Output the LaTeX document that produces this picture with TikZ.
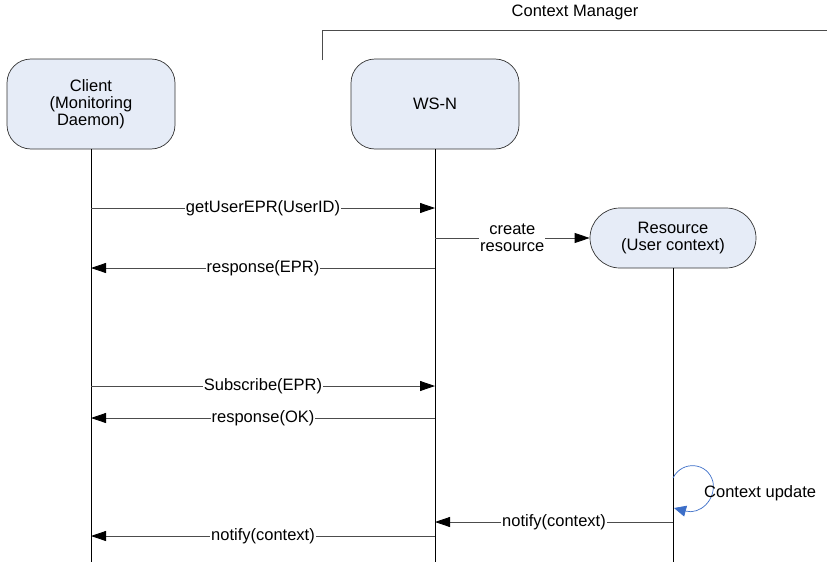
\documentclass[tikz,border=0pt]{standalone}
\usepackage{fontspec}
\setmainfont{Liberation Sans}
\usetikzlibrary{arrows.meta,shapes.misc}
\definecolor{boxfill}{RGB}{230,236,247}
\definecolor{loopblue}{RGB}{60,110,200}
\begin{document}
\begin{tikzpicture}[x=1pt,y=-1pt,
  every node/.style={font=\fontsize{16.5}{17}\selectfont, inner sep=1pt},
  actor/.style={draw=black!80, fill=boxfill, rounded corners=24pt, minimum width=168pt, minimum height=90pt, align=center, line width=0.7pt},
  resbox/.style={draw=black!80, fill=boxfill, rounded rectangle, minimum width=168pt, minimum height=60pt, align=center, line width=0.7pt},
  life/.style={draw=black, line width=0.6pt},
  msg/.style={draw=black!70, line width=0.8pt, -{Triangle[length=15pt,width=10pt,color=black]}},
  lbl/.style={fill=white, inner sep=1pt}
]
\useasboundingbox (0,0) rectangle (827,562);
% Context Manager bracket
\node (cmtitle) at (575,12) {Context Manager};
\coordinate (cmA) at (322,60);
\coordinate (cmB) at (322,30);
\coordinate (cmC) at (827,30);
\draw[black!70, line width=0.7pt] (cmA) -- (cmB) -- (cmC);
% actors
\node[actor] (client) at (91,104) {Client\\(Monitoring\\Daemon)};
\node[actor] (wsn) at (435,104) {WS-N};
\node[resbox] (res) at (673,238) {Resource\\(User context)};
% lifeline ends
\coordinate (cEnd) at (91,562);
\coordinate (wEnd) at (435,562);
\coordinate (rEnd) at (673,562);
\draw[life] (client.south) -- (cEnd);
\draw[life] (wsn.south) -- (wEnd);
\draw[life] (res.south) -- (rEnd);
% message points
\foreach \n/\y in {1/208,2/268,3/386,4/418,6/536} {
  \coordinate (c\n) at (91,\y);
  \coordinate (w\n) at (435,\y);
}
\coordinate (w5) at (435,522);
\coordinate (r5) at (673,522);
\coordinate (wc) at (435,238);
\draw[msg] (c1) -- node[lbl] (m1) {getUserEPR(UserID)} (w1);
\draw[msg] (wc) -- node[lbl, align=center] (m0) {create\\resource} (res.west);
\draw[msg] (w2) -- node[lbl] (m2) {response(EPR)} (c2);
\draw[msg] (c3) -- node[lbl] (m3) {Subscribe(EPR)} (w3);
\draw[msg] (w4) -- node[lbl] (m4) {response(OK)} (c4);
\draw[msg] (r5) -- node[lbl] (m5) {notify(context)} (w5);
\draw[msg] (w6) -- node[lbl] (m6) {notify(context)} (c6);
% self loop
\coordinate (lp1) at (673,478);
\coordinate (lp2) at (674,508);
\draw[loopblue, line width=0.7pt, -{Triangle[length=12pt,width=11pt]}] (lp1) .. controls (682,460) and (708,462) .. (713,482) .. controls (716,500) and (700,515) .. (lp2);
\node[anchor=west] (lpl) at (703,493) {Context update};
\end{tikzpicture}
\end{document}
